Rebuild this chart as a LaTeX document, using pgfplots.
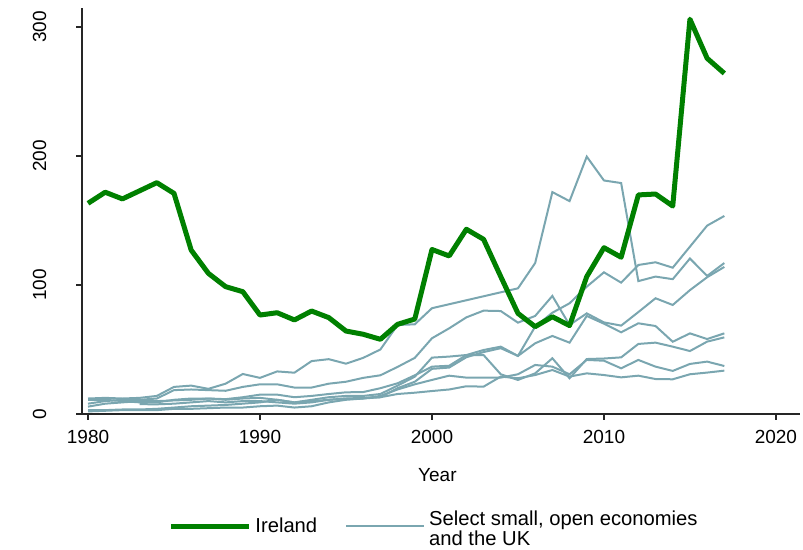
\documentclass[border=0pt]{standalone}
\usepackage{pgfplots}
\pgfplotsset{compat=1.18}
\usepackage{fontspec}
\setmainfont{Liberation Sans}
\definecolor{irl}{RGB}{0,128,0}
\definecolor{soe}{RGB}{122,166,176}
\begin{document}
\fontsize{9.5}{11.4}\selectfont
\begin{tikzpicture}
\begin{axis}[
  scale only axis, width=359pt, height=203pt,
  xmin=1979.65, xmax=2021.4, ymin=0, ymax=314.7,
  axis x line*=bottom, axis y line*=left,
  axis line style={black!85, line width=0.6pt},
  xtick={1980,1990,2000,2010,2020}, ytick={0,100,200,300},
  tick align=outside, major tick length=3pt,
  tick style={black!85, line width=0.6pt},
  /pgf/number format/assume math mode=true,
  x tick label style={/pgf/number format/1000 sep={}},
  yticklabel style={rotate=90, anchor=south},
  yticklabel shift=11.5pt,
  xticklabel shift=2pt,
  xlabel={Year},
  xlabel style={at={(axis description cs:0.495,0)}, anchor=center, yshift=-30.5pt},
  legend style={at={(axis description cs:0.5,0)}, anchor=north, yshift=-44pt, xshift=-3pt, draw=none, fill=none,
    legend columns=2, /tikz/every even column/.append style={column sep=12pt},
    cells={anchor=west}, font=\fontsize{10.1}{10.2}\selectfont},
  legend image code/.code={\draw[#1] (0pt,0pt) -- (39pt,0pt);},
  clip=false,
]
\coordinate (sw) at (rel axis cs:0,0);
\coordinate (ne) at (rel axis cs:1,1);
% gray series
\addplot[soe, line width=1pt, forget plot] coordinates {
(1980,12)(1981,12.5)(1982,12)(1983,12.5)(1984,14)(1985,21)(1986,22)(1987,19.5)(1988,23.5)(1989,31)
(1990,28)(1991,33)(1992,32)(1993,41)(1994,42.5)(1995,39)(1996,43.5)(1997,50)(1998,69)(1999,69.5)
(2000,82)(2005,97.4)(2006,117)(2007,172)(2008,165)(2009,199.5)(2010,181)(2011,179)(2012,103)
(2013,106.5)(2014,104.5)(2015,120.5)(2016,107)(2017,117)};
\addplot[soe, line width=1pt, forget plot] coordinates {
(1980,8)(1981,10)(1982,11)(1983,11)(1984,12)(1985,18.5)(1986,19)(1987,18.5)(1988,18)(1989,21)
(1990,23)(1991,23)(1992,20.5)(1993,20.5)(1994,23.5)(1995,25)(1996,28)(1997,30)(1998,36.5)(1999,43.5)
(2000,58.7)(2001,66.4)(2002,74.9)(2003,80.1)(2004,79.8)(2005,70.8)(2006,76)(2007,91.5)(2008,69)
(2009,78)(2010,71)(2011,68.5)(2012,79)(2013,89.7)(2014,84.5)(2015,96)(2016,106)(2017,114)};
\addplot[soe, line width=1pt, forget plot] coordinates {
(1980,5.7)(1981,8)(1982,9)(1983,10)(1984,10)(1985,10.5)(1986,11)(1987,12)(1988,11.5)(1989,13)
(1990,15)(1991,15)(1992,13)(1993,14)(1994,15.5)(1995,16.8)(1996,17)(1997,20)(1998,23.8)(1999,30)
(2000,36.7)(2001,37.4)(2002,45.7)(2003,49.6)(2004,52.2)(2005,45)(2006,54.8)(2007,60.5)(2008,55.3)
(2009,76)(2010,70)(2011,63.3)(2012,70.3)(2013,68.2)(2014,56)(2015,62.5)(2016,58.1)(2017,62.5)};
\addplot[soe, line width=1pt, forget plot] coordinates {
(1980,3)(1981,3)(1982,3.5)(1983,3.5)(1984,4)(1985,5)(1986,6)(1987,6.5)(1988,7)(1989,8)
(1990,9)(1991,11)(1992,9)(1993,10)(1994,11)(1995,12)(1996,12.5)(1997,13)(1998,20)(1999,25)
(2000,35)(2001,36)(2002,44)(2003,48)(2004,51)(2005,45)(2006,67.7)(2007,78.5)(2008,85.8)
(2009,98.7)(2010,109.8)(2011,101.8)(2012,115.5)(2013,117.6)(2014,113.4)(2015,129.7)(2016,146)(2017,153.5)};
\addplot[soe, line width=1pt, forget plot] coordinates {
(1980,10.9)(1981,11)(1982,10)(1983,9)(1984,9)(1985,11)(1986,12)(1987,12)(1988,11)(1989,12)
(1990,12.5)(1991,11)(1992,9)(1993,11)(1994,13)(1995,14)(1996,14)(1997,15.5)(1998,22)(1999,28.9)
(2000,43.7)(2001,44.5)(2002,45.7)(2003,45.7)(2004,30.8)(2005,26.4)(2006,31.5)(2007,43.2)(2008,27.7)
(2009,42.6)(2010,43)(2011,43.9)(2012,54.3)(2013,55.3)(2014,52.2)(2015,48.8)(2016,56.1)(2017,59.4)};
\addplot[soe, line width=1pt, forget plot] coordinates {
(1983,7.6)(1984,7.5)(1985,8)(1986,9)(1987,10)(1988,9)(1989,10)
(1990,10)(1991,9)(1992,8)(1993,9)(1994,11)(1995,12)(1996,12)(1997,14)(1998,19)(1999,23)
(2000,26.4)(2001,29.7)(2002,28.2)(2003,28.2)(2004,28.2)(2005,30.8)(2006,38)(2007,36.7)(2008,30.8)
(2009,41.9)(2010,41.3)(2011,35.4)(2012,41.9)(2013,36.7)(2014,33.4)(2015,38.8)(2016,40.6)(2017,37.2)};
\addplot[soe, line width=1pt, forget plot] coordinates {
(1980,2)(1981,2.5)(1982,3)(1983,3)(1984,3)(1985,4)(1986,4)(1987,4.5)(1988,5)(1989,5)
(1990,6)(1991,6.5)(1992,5)(1993,6)(1994,9)(1995,11)(1996,12)(1997,13)(1998,15.5)(1999,16.5)
(2000,17.8)(2001,19)(2002,21.5)(2003,21.2)(2004,29)(2005,27.7)(2006,30.2)(2007,34.1)(2008,29)
(2009,31.5)(2010,30.2)(2011,28.4)(2012,29.7)(2013,27.1)(2014,26.9)(2015,30.8)(2016,32.1)(2017,33.6)};
% Ireland
\addplot[irl, line width=2.5pt, line join=round] coordinates {
(1980,163.3)(1981,171.9)(1982,166.7)(1983,173)(1984,179.3)(1985,171)(1986,127)(1987,109)(1988,98.7)(1989,94.8)
(1990,76.7)(1991,78.5)(1992,72.9)(1993,79.8)(1994,74.7)(1995,64.3)(1996,61.8)(1997,57.9)(1998,69.5)(1999,73.6)
(2000,127.5)(2001,122.5)(2002,143.2)(2003,135.4)(2004,106.5)(2005,78)(2006,67.7)(2007,75.4)(2008,68.5)
(2009,106.5)(2010,128.9)(2011,121.5)(2012,169.8)(2013,170.5)(2014,161.2)(2015,306)(2016,275.7)(2017,264)};
\addlegendentry{Ireland}
\addlegendimage{soe, line width=1pt}
\addlegendentry{\raisebox{1.5pt}{\begin{tabular}{@{}l@{}}Select small, open economies\\and the UK\end{tabular}}}
\end{axis}
\pgfresetboundingbox
\path ([xshift=-41pt,yshift=-68pt]sw) rectangle ([xshift=1.5pt,yshift=4pt]ne);
\end{tikzpicture}
\end{document}
